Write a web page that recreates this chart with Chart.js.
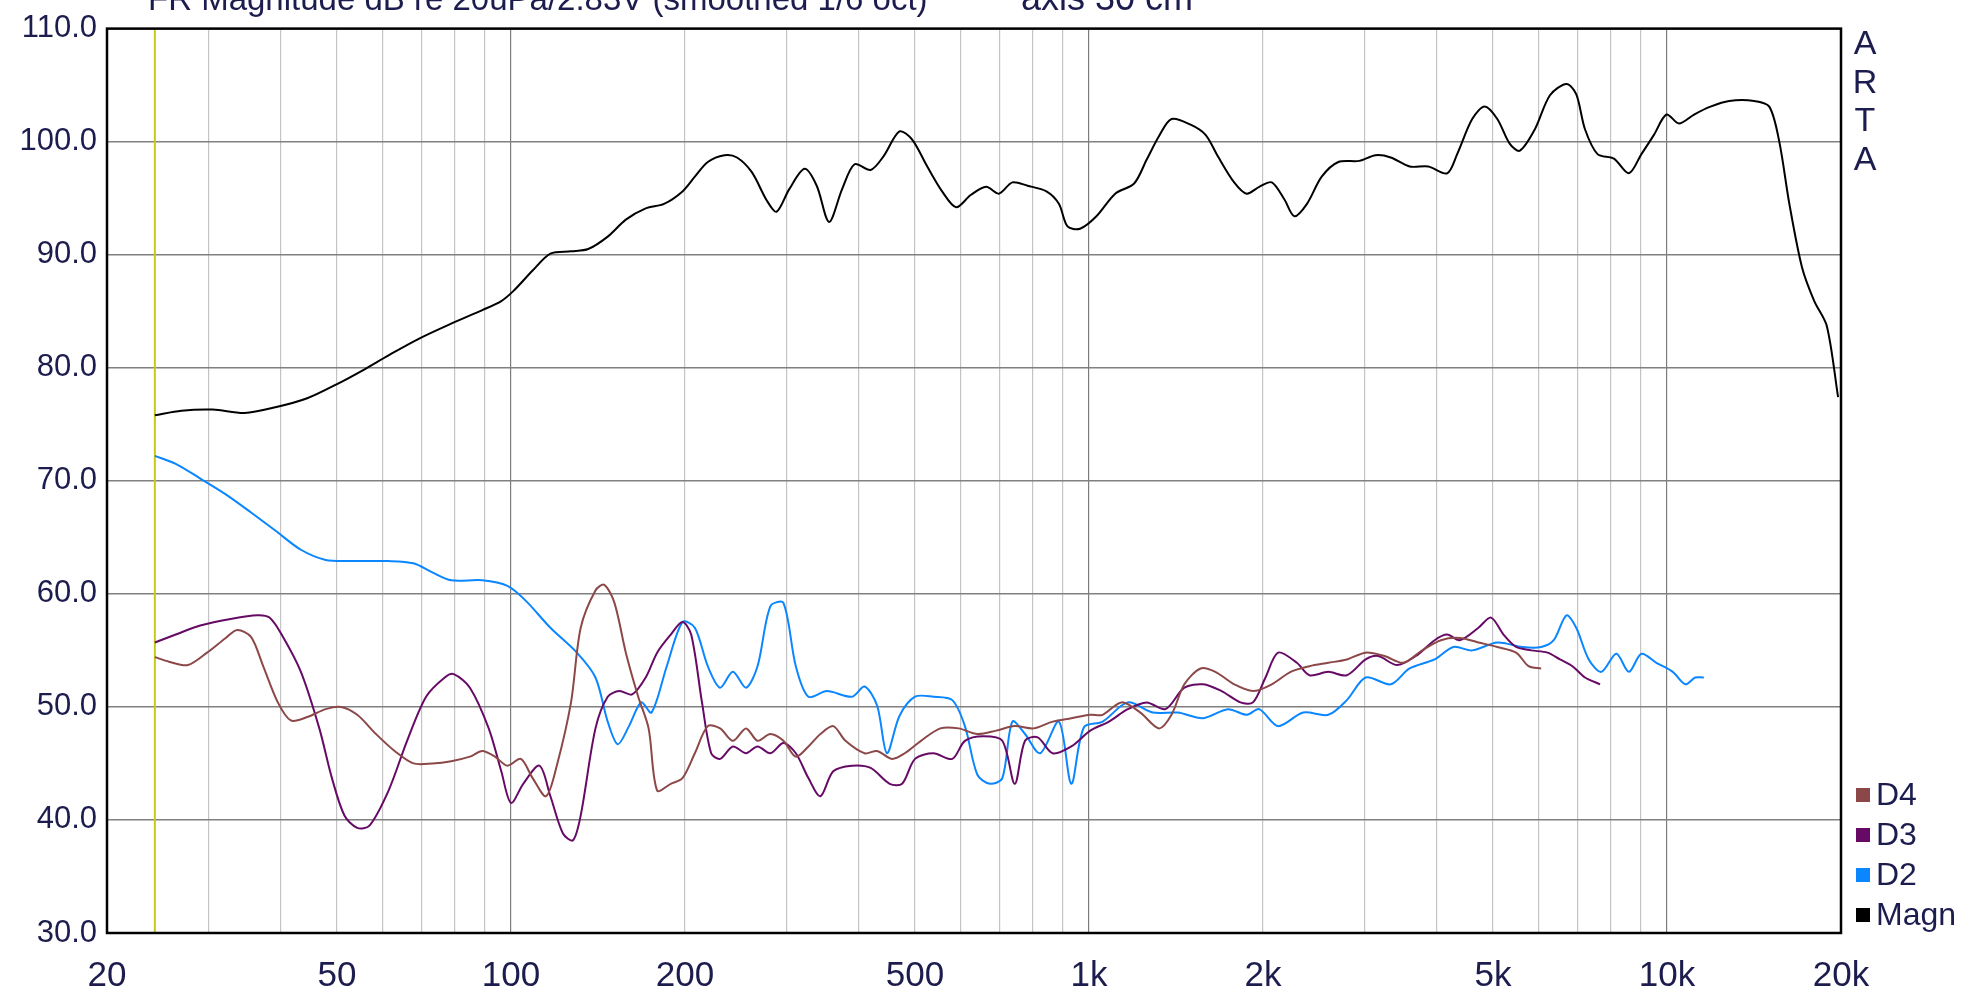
<!DOCTYPE html>
<html>
<head>
<meta charset="utf-8">
<script src="https://cdn.jsdelivr.net/npm/chart.js@4.4.1/dist/chart.umd.min.js"></script>
<style>
  html, body { margin: 0; padding: 0; background: #fff; }
  #wrap { width: 1965px; height: 987px; position: relative; }
</style>
</head>
<body>
<div id="wrap"><canvas id="frChart"></canvas></div>
<script>
// grid + tick labels
const gridFreqs = [20, 30, 40, 50, 60, 70, 80, 90, 100, 200, 300, 400, 500, 600, 700, 800, 900,
    1000, 2000, 3000, 4000, 5000, 6000, 7000, 8000, 9000, 10000, 20000];
const decadeFreqs = [100, 1000, 10000];
const freqLabels = { 20: '20', 50: '50', 100: '100', 200: '200', 500: '500',
    1000: '1k', 2000: '2k', 5000: '5k', 10000: '10k', 20000: '20k' };
const markerFreq = 24.2;

const titleText = 'FR Magnitude dB re 20uPa/2.83V (smoothed 1/6 oct)';
const noteText = 'axis 30 cm';

// Magn (black)
const magnFreq = [24.2, 26.9, 30.5, 34.6, 39.1, 44.4, 50.2, 55.5, 61.4, 69.5, 78.8, 89.2, 96.2, 101, 109, 117, 127, 136,
    147, 158, 171, 184, 198, 208, 219, 234, 246, 261, 277, 288, 303, 322, 338, 355, 374, 393, 419, 441, 470, 494,
    525, 557, 589, 625, 664, 698, 737, 783, 844, 887, 918, 965, 1030, 1110, 1197, 1258, 1322, 1389, 1499, 1591,
    1671, 1783, 1874, 1970, 2071, 2177, 2266, 2383, 2527, 2700, 2936, 3132, 3327, 3586, 3864, 4165, 4335, 4602,
    4837, 5086, 5347, 5565, 5908, 6274, 6700, 6965, 7213, 7583, 8093, 8590, 9032, 9493, 9980, 10490, 11140,
    11890, 12810, 14150, 15030, 15640, 16280, 17120, 17980, 18900, 19770];
const magnDb = [75.8, 76.2, 76.3, 76.0, 76.5, 77.3, 78.6, 79.8, 81.1, 82.6, 83.9, 85.1, 85.9, 86.8, 88.6, 90.1, 90.3, 90.5,
    91.6, 93.1, 94.1, 94.5, 95.6, 96.9, 98.2, 98.8, 98.6, 97.3, 94.8, 93.8, 95.8, 97.6, 96.1, 92.9, 95.8, 98.0, 97.5, 98.7,
    100.9, 100.2, 97.8, 95.6, 94.2, 95.3, 96.0, 95.4, 96.4, 96.1, 95.6, 94.5, 92.5, 92.3, 93.4, 95.4, 96.3, 98.4, 100.5,
    102.0, 101.5, 100.6, 98.7, 96.4, 95.4, 96.0, 96.4, 94.9, 93.4, 94.5, 96.9, 98.2, 98.3, 98.8, 98.6, 97.8, 97.8, 97.2,
    98.9, 102.0, 103.1, 102.0, 99.8, 99.2, 101.1, 104.1, 105.1, 104.2, 101.1, 98.9, 98.5, 97.2, 98.9, 100.6, 102.4, 101.6,
    102.4, 103.1, 103.6, 103.6, 103.1, 100.0, 94.5, 88.9, 85.9, 83.7, 77.4];

// D2 (blue)
const d2Freq = [24.2, 26.3, 29.0, 32.1, 35.5, 39.1, 43.3, 47.8, 52.8, 61.4, 67.8, 73.1, 78.8, 89.2, 98.6, 106, 117, 130,
    140, 147, 153, 160, 168, 175, 186, 198, 208, 219, 230, 242, 255, 267, 281, 296, 311, 327, 352, 389, 409, 430, 447,
    470, 500, 538, 580, 610, 641, 674, 708, 737, 775, 823, 887, 932, 980, 1056, 1167, 1290, 1425, 1575, 1739, 1874,
    1970, 2124, 2347, 2594, 2793, 3011, 3327, 3586, 3962, 4271, 4602, 5086, 5621, 6057, 6368, 6700, 6965, 7322, 7698,
    8174, 8590, 9032, 9586, 10230, 10760, 11190, 11580];
const d2Db = [72.2, 71.5, 70.2, 68.8, 67.2, 65.6, 63.9, 63.0, 62.9, 62.9, 62.7, 61.9, 61.2, 61.2, 60.7, 59.4, 57.0, 54.8,
    52.6, 48.7, 46.7, 48.3, 50.4, 49.5, 53.6, 57.5, 57.0, 53.6, 51.7, 53.1, 51.7, 53.6, 58.9, 59.2, 53.6, 50.9, 51.4, 50.9,
    51.8, 50.1, 45.9, 49.2, 50.9, 50.9, 50.6, 48.3, 44.0, 43.2, 43.7, 48.7, 47.6, 45.9, 48.7, 43.2, 48.2, 48.7, 50.4, 49.5,
    49.5, 49.0, 49.8, 49.3, 49.8, 48.3, 49.5, 49.3, 50.6, 52.6, 52.0, 53.4, 54.2, 55.3, 55.0, 55.7, 55.3, 55.3, 55.9, 58.1,
    57.0, 54.2, 53.1, 54.7, 53.1, 54.7, 53.9, 53.1, 52.0, 52.6, 52.6];

// D3 (purple)
const d3Freq = [24.2, 26.3, 29.0, 32.9, 36.4, 38.2, 40.1, 43.3, 46.6, 49.0, 51.5, 54.2, 56.9, 61.4, 66.1, 71.3, 76.8, 79.6,
    84.9, 91.5, 96.2, 100, 105, 112, 117, 123, 128, 132, 140, 147, 154, 162, 171, 179, 189, 198, 205, 214, 222, 230, 242,
    255, 267, 281, 296, 311, 327, 343, 361, 389, 419, 452, 475, 500, 538, 580, 610, 657, 708, 744, 775, 815, 865, 932,
    1005, 1083, 1167, 1258, 1356, 1462, 1575, 1696, 1828, 1922, 2020, 2124, 2289, 2406, 2594, 2793, 3011, 3165, 3411,
    3677, 3962, 4165, 4379, 4718, 4960, 5214, 5482, 5820, 6211, 6529, 6861, 7213, 7659];
const d3Db = [55.7, 56.4, 57.2, 57.8, 58.1, 57.9, 56.4, 53.1, 48.1, 43.7, 40.4, 39.3, 39.5, 42.6, 47.0, 50.9, 52.6, 52.9,
    51.7, 48.1, 44.3, 41.5, 43.2, 44.8, 42.1, 38.8, 38.2, 40.4, 48.1, 50.9, 51.4, 51.1, 52.6, 54.8, 56.4, 57.5, 56.4, 50.4,
    45.9, 45.4, 46.5, 45.9, 46.5, 45.9, 46.8, 45.9, 43.7, 42.1, 44.3, 44.8, 44.6, 43.2, 43.2, 45.4, 45.9, 45.4, 47.0, 47.4,
    47.0, 43.2, 47.0, 47.3, 45.9, 46.5, 47.9, 48.7, 49.8, 50.4, 49.8, 51.7, 52.0, 51.4, 50.4, 50.4, 52.6, 54.8, 53.9, 52.8,
    53.1, 52.8, 54.2, 54.5, 53.7, 54.5, 55.9, 56.4, 55.9, 57.0, 57.9, 56.4, 55.3, 55.0, 54.8, 54.2, 53.6, 52.6, 52.0];

// D4 (brown)
const d4Freq = [24.2, 25.6, 27.6, 29.8, 32.1, 33.6, 35.5, 37.2, 39.5, 41.6, 44.4, 47.8, 50.8, 54.2, 58.4, 62.9, 67.8, 73.1,
    78.8, 84.9, 89.2, 93.8, 98.6, 104, 109, 115, 120, 127, 132, 140, 145, 151, 158, 166, 173, 179, 189, 198, 208, 219,
    230, 242, 255, 267, 281, 296, 311, 327, 343, 361, 379, 409, 430, 456, 480, 512, 553, 595, 641, 691, 744, 802, 865,
    932, 1005, 1056, 1138, 1227, 1322, 1389, 1462, 1560, 1654, 1783, 1922, 2071, 2233, 2406, 2594, 2793, 3011, 3245,
    3498, 3770, 4062, 4379, 4718, 5086, 5482, 5762, 6057];
const d4Db = [54.4, 54.0, 53.7, 54.8, 56.1, 56.8, 56.2, 53.7, 50.4, 48.8, 49.1, 49.8, 50.0, 49.3, 47.6, 46.1, 45.0, 45.0,
    45.2, 45.6, 46.1, 45.6, 44.8, 45.4, 43.7, 42.1, 44.8, 50.4, 57.0, 60.3, 60.8, 59.2, 54.8, 50.9, 48.1, 42.6, 43.2, 43.7,
    45.9, 48.3, 48.1, 47.0, 48.1, 47.0, 47.6, 47.0, 45.6, 46.5, 47.6, 48.3, 47.0, 45.9, 46.1, 45.4, 45.9, 47.0, 48.1, 48.1,
    47.6, 47.9, 48.3, 48.1, 48.7, 49.0, 49.3, 49.3, 50.4, 49.5, 48.1, 49.3, 52.0, 53.4, 53.1, 52.0, 51.4, 52.0, 53.1, 53.6,
    53.9, 54.2, 54.8, 54.5, 53.9, 55.0, 55.9, 56.1, 55.7, 55.3, 54.8, 53.6, 53.4];

const pts = (fs, ds) => fs.slice(0, ds.length).map((f, i) => ({ x: f, y: ds[i] }));
const FONT = "'Liberation Sans', Arial, sans-serif";
const TEXT_COLOR = '#1c1c4e';

const lineStyle = (label, color, data) => ({
    label: label,
    data: data,
    borderColor: color,
    backgroundColor: color,
    borderWidth: 2,
    pointRadius: 0,
    tension: 0.3,
    fill: false,
});

// frame, yellow marker, title, ARTA, legend
const artaDecor = {
    id: 'artaDecor',
    beforeDatasetsDraw(chart) {
        const { ctx, chartArea } = chart;
        const x = chart.scales.x.getPixelForValue(markerFreq);
        ctx.save();
        ctx.strokeStyle = '#c8c818';
        ctx.lineWidth = 2;
        ctx.beginPath();
        ctx.moveTo(x, chartArea.top);
        ctx.lineTo(x, chartArea.bottom);
        ctx.stroke();
        ctx.restore();
    },
    afterDraw(chart) {
        const { ctx, chartArea } = chart;
        ctx.save();
        ctx.strokeStyle = '#000';
        ctx.lineWidth = 2.5;
        ctx.strokeRect(chartArea.left, chartArea.top, chartArea.right - chartArea.left, chartArea.bottom - chartArea.top);

        ctx.fillStyle = TEXT_COLOR;
        ctx.textBaseline = 'alphabetic';
        ctx.textAlign = 'left';
        ctx.font = '33px ' + FONT;
        ctx.fillText(titleText, 148, 10);
        ctx.font = '36px ' + FONT;
        ctx.fillText(noteText, 1021, 10);

        ctx.font = '34px ' + FONT;
        ctx.textAlign = 'center';
        ctx.textBaseline = 'middle';
        ['A', 'R', 'T', 'A'].forEach((ch, i) => ctx.fillText(ch, 1865, 45 + i * 38.5));

        ctx.font = '32px ' + FONT;
        ctx.textAlign = 'left';
        const sets = chart.data.datasets;
        sets.forEach((ds, i) => {
            const y = 795 + i * 40;
            ctx.fillStyle = ds.borderColor;
            ctx.fillRect(1856, y - 7, 14, 14);
            ctx.fillStyle = TEXT_COLOR;
            ctx.fillText(ds.label, 1876, y + 1);
        });
        ctx.restore();
    }
};

const frChart = new Chart(document.getElementById('frChart'), {
    type: 'line',
    data: {
        datasets: [
            lineStyle('D4', '#8c4848', pts(d4Freq, d4Db)),
            lineStyle('D3', '#660a66', pts(d3Freq, d3Db)),
            lineStyle('D2', '#0a86ff', pts(d2Freq, d2Db)),
            lineStyle('Magn', '#000000', pts(magnFreq, magnDb)),
        ],
    },
    options: {
        responsive: true,
        maintainAspectRatio: false,
        animation: false,
        layout: { padding: { top: 24, right: 124, left: 0, bottom: 0 } },
        scales: {
            x: {
                type: 'logarithmic',
                min: 20,
                max: 20000,
                afterBuildTicks: (s) => { s.ticks = gridFreqs.map(v => ({ value: v })); },
                afterFit: (s) => { s.height = 54; },
                ticks: {
                    autoSkip: false,
                    maxRotation: 0,
                    padding: 22,
                    color: TEXT_COLOR,
                    font: { family: FONT, size: 35 },
                    callback: (v) => freqLabels[v] || '',
                },
                grid: {
                    drawTicks: false,
                    lineWidth: 1.2,
                    color: (c) => (c.tick && decadeFreqs.includes(c.tick.value)) ? '#7c7c7c' : '#c4c4c4',
                },
                border: { display: false },
            },
            y: {
                min: 30,
                max: 110,
                afterFit: (s) => { s.width = 107; },
                ticks: {
                    stepSize: 10,
                    padding: 10,
                    color: TEXT_COLOR,
                    font: { family: FONT, size: 31 },
                    callback: (v) => v.toFixed(1),
                },
                grid: { drawTicks: false, color: '#808080', lineWidth: 1.5 },
                border: { display: false },
            },
        },
        plugins: {
            legend: { display: false },
            tooltip: { enabled: false },
        },
    },
    plugins: [artaDecor],
});
</script>
</body>
</html>
